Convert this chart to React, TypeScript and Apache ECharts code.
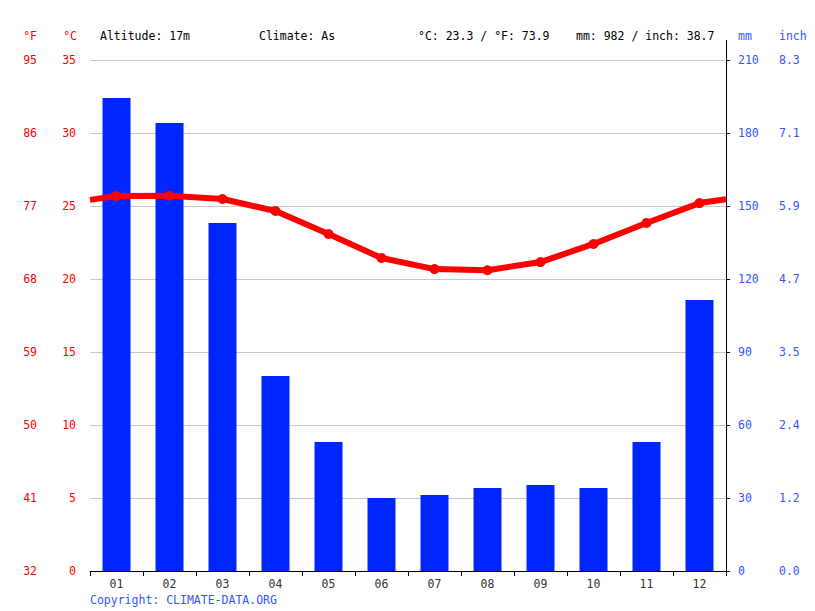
import React, { useEffect, useRef } from "react";
import * as echarts from "echarts";

const months = ["01", "02", "03", "04", "05", "06", "07", "08", "09", "10", "11", "12"];
const precipMm = [194.4, 184.1, 143.0, 80.1, 53.0, 30.0, 31.2, 34.1, 35.3, 34.1, 53.0, 111.4];
const tempC = [25.68, 25.7, 25.48, 24.66, 23.08, 21.44, 20.68, 20.6, 21.16, 22.4, 23.84, 25.2];
const tempEdgeLeft = 25.42;
const tempEdgeRight = 25.46;
const fLabels = ["32", "41", "50", "59", "68", "77", "86", "95"];
const inchLabels = ["0.0", "1.2", "2.4", "3.5", "4.7", "5.9", "7.1", "8.3"];
const headerTexts = {
  altitude: "Altitude: 17m",
  climate: "Climate: As",
  temp: "°C: 23.3 / °F: 73.9",
  precip: "mm: 982 / inch: 38.7",
};

const FONT = "'DejaVu Sans Mono', monospace";
const FS = 11.5;
const RED = "#ff0000";
const BLUE = "#0026ff";
const LBLUE = "#3355ff";

export default function App() {
  const ref = useRef<HTMLDivElement>(null);
  useEffect(() => {
    if (!ref.current) return;
    const chart = echarts.init(ref.current, undefined, { renderer: "svg" });
    const lineData: any[] = [{ value: [0, tempEdgeLeft], symbol: "none" }];
    tempC.forEach((t, i) => lineData.push({ value: [i + 0.5, t] }));
    lineData.push({ value: [12, tempEdgeRight], symbol: "none" });

    const txt = (x: number, y: number, text: string, fill: string, align = "left") => ({
      type: "text",
      x,
      y,
      style: { text, fill, font: `${FS}px ${FONT}`, textAlign: align, textVerticalAlign: "middle" },
    });

    chart.setOption({
      animation: false,
      textStyle: { fontFamily: FONT, fontSize: FS },
      grid: { left: 90, right: 89, top: 60, bottom: 40, containLabel: false },
      xAxis: [
        {
          type: "category",
          data: months,
          boundaryGap: true,
          axisLine: { show: true, lineStyle: { color: "#000", width: 1 } },
          axisTick: { show: true, length: 5, lineStyle: { color: "#000" } },
          axisLabel: { color: "#333", fontFamily: FONT, fontSize: FS, margin: 7 },
          splitLine: { show: false },
        },
        {
          type: "value",
          min: 0,
          max: 12,
          show: false,
        },
      ],
      yAxis: [
        {
          type: "value",
          position: "left",
          min: 0,
          max: 35,
          interval: 5,
          axisLine: { show: false },
          axisTick: { show: false },
          axisLabel: { color: RED, fontFamily: FONT, fontSize: FS, margin: 14 },
          splitLine: { show: true, lineStyle: { color: "#c8c8c8", width: 1 } },
        },
        {
          type: "value",
          position: "left",
          offset: 39,
          min: 0,
          max: 35,
          interval: 5,
          axisLine: { show: false },
          axisTick: { show: false },
          axisLabel: {
            color: RED,
            fontFamily: FONT,
            fontSize: FS,
            margin: 14,
            formatter: (v: number) => fLabels[Math.round(v / 5)],
          },
          splitLine: { show: false },
        },
        {
          type: "value",
          position: "right",
          min: 0,
          max: 210,
          interval: 30,
          axisLine: { show: true, lineStyle: { color: "#000", width: 1 } },
          axisTick: { show: true, length: 4, lineStyle: { color: "#000" } },
          axisLabel: { color: LBLUE, fontFamily: FONT, fontSize: FS, margin: 12 },
          splitLine: { show: false },
        },
        {
          type: "value",
          position: "right",
          offset: 41,
          min: 0,
          max: 210,
          interval: 30,
          axisLine: { show: false },
          axisTick: { show: false },
          axisLabel: {
            color: LBLUE,
            fontFamily: FONT,
            fontSize: FS,
            margin: 12,
            formatter: (v: number) => inchLabels[Math.round(v / 30)],
          },
          splitLine: { show: false },
        },
      ],
      series: [
        {
          type: "bar",
          xAxisIndex: 0,
          yAxisIndex: 2,
          data: precipMm,
          barWidth: 28,
          itemStyle: { color: BLUE },
          z: 2,
        },
        {
          type: "line",
          xAxisIndex: 1,
          yAxisIndex: 0,
          data: lineData,
          symbol: "circle",
          symbolSize: 10,
          lineStyle: { color: RED, width: 6 },
          itemStyle: { color: RED },
          z: 3,
        },
      ],
      graphic: [
        { type: "line", shape: { x1: 726.5, y1: 40, x2: 726.5, y2: 60 }, style: { stroke: "#000", lineWidth: 1 } },
        txt(37, 36, "°F", RED, "right"),
        txt(77, 36, "°C", RED, "right"),
        txt(100, 36, headerTexts.altitude, "#000"),
        txt(259, 36, headerTexts.climate, "#000"),
        txt(418, 36, headerTexts.temp, "#000"),
        txt(576, 36, headerTexts.precip, "#000"),
        txt(738, 36, "mm", LBLUE),
        txt(779, 36, "inch", LBLUE),
        txt(90, 600, "Copyright: CLIMATE-DATA.ORG", LBLUE),
      ],
    });
    return () => chart.dispose();
  }, []);
  return <div ref={ref} style={{ width: 815, height: 611, position: "absolute", left: 0, top: 0 }} />;
}
